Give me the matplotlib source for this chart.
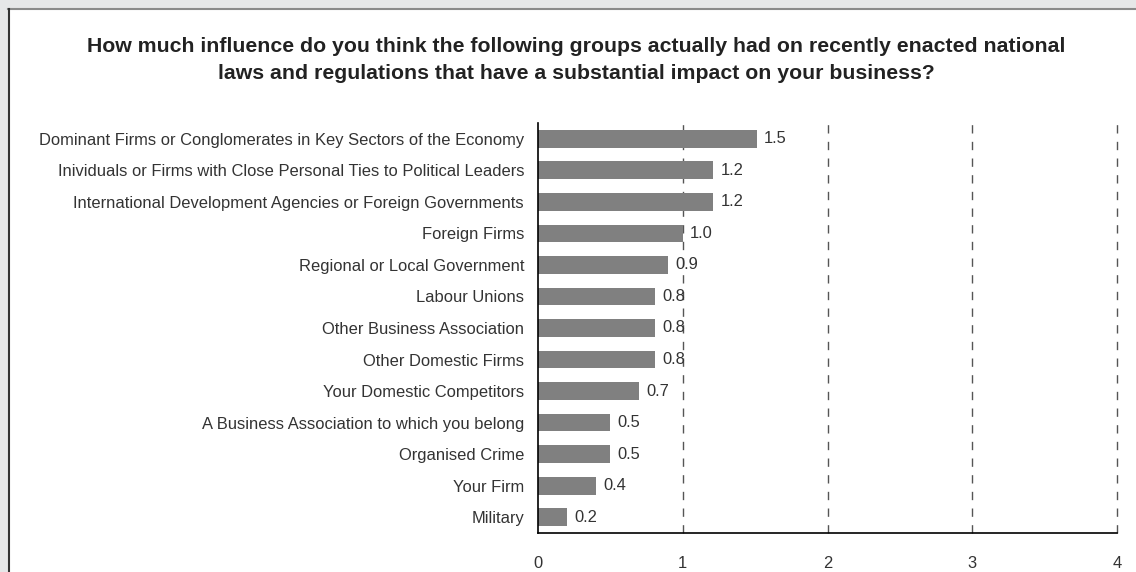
import matplotlib.pyplot as plt
from matplotlib.patches import Rectangle
from matplotlib.lines import Line2D

plt.rcParams["font.family"] = ["Liberation Sans", "DejaVu Sans"]

groups = [
    "Dominant Firms or Conglomerates in Key Sectors of the Economy",
    "Inividuals or Firms with Close Personal Ties to Political Leaders",
    "International Development Agencies or Foreign Governments",
    "Foreign Firms",
    "Regional or Local Government",
    "Labour Unions",
    "Other Business Association",
    "Other Domestic Firms",
    "Your Domestic Competitors",
    "A Business Association to which you belong",
    "Organised Crime",
    "Your Firm",
    "Military",
]
values = [1.51, 1.21, 1.21, 1.0, 0.9, 0.81, 0.81, 0.81, 0.7, 0.5, 0.5, 0.4, 0.2]
xticks = [0, 1, 2, 3, 4]
title = ("How much influence do you think the following groups actually had on recently enacted national\n"
         "laws and regulations that have a substantial impact on your business?")

W, H = 1136, 572
fig = plt.figure(figsize=(W / 100, H / 100), dpi=100)
fig.patch.set_facecolor("#e6e7e8")

# white panel with border
fig.patches.append(Rectangle((8 / W, 0), 1 - 8 / W, 1 - 9 / H, transform=fig.transFigure,
                             facecolor="white", edgecolor="none", zorder=-5))
fig.lines.append(Line2D([8 / W, 1], [1 - 8.5 / H, 1 - 8.5 / H], transform=fig.transFigure,
                        color="#8a8a8a", lw=1.5, zorder=-4))
fig.lines.append(Line2D([8.5 / W, 8.5 / W], [0, 1 - 8.5 / H], transform=fig.transFigure,
                        color="#333333", lw=1.5, zorder=-4))

ax = fig.add_axes([538 / W, 1 - 533 / H, (1117 - 538) / W, (533 - 123) / H])
ax.set_zorder(2)
ax.set_facecolor("none")

fs = 11.9
y = list(range(len(groups)))
ax.barh(y, values, height=0.56, color="#808080", zorder=2)
for yi, v in zip(y, values):
    ax.text(v + 0.05, yi, f"{v:.1f}", va="center", ha="left", fontsize=fs, color="#333333", zorder=3)

ax.set_ylim(len(groups) - 0.5, -0.5)
ax.set_xlim(0, 4)
ax.set_yticks(y)
ax.set_yticklabels(groups, fontsize=fs, color="#333333")
ax.set_xticks(xticks)
ax.set_xticklabels([str(t) for t in xticks], fontsize=fs, color="#333333")
ax.tick_params(axis="y", length=0, pad=10)
ax.tick_params(axis="x", length=0, pad=16.5)

for t in xticks[1:]:
    ax.axvline(t, color="#555555", lw=1, ls=(0, (6, 6)), zorder=1, clip_on=False)

for s in ["top", "right"]:
    ax.spines[s].set_visible(False)
ax.spines["left"].set_color("black")
ax.spines["bottom"].set_color("black")
ax.spines["left"].set_linewidth(1.2)
ax.spines["bottom"].set_linewidth(1.2)

fig.text(576 / W, 1 - 60 / H, title, ha="center", va="center", fontsize=15.3, fontweight="bold",
         color="#222222", linespacing=1.55)

fig.savefig("out.png", dpi=100, facecolor=fig.get_facecolor())
